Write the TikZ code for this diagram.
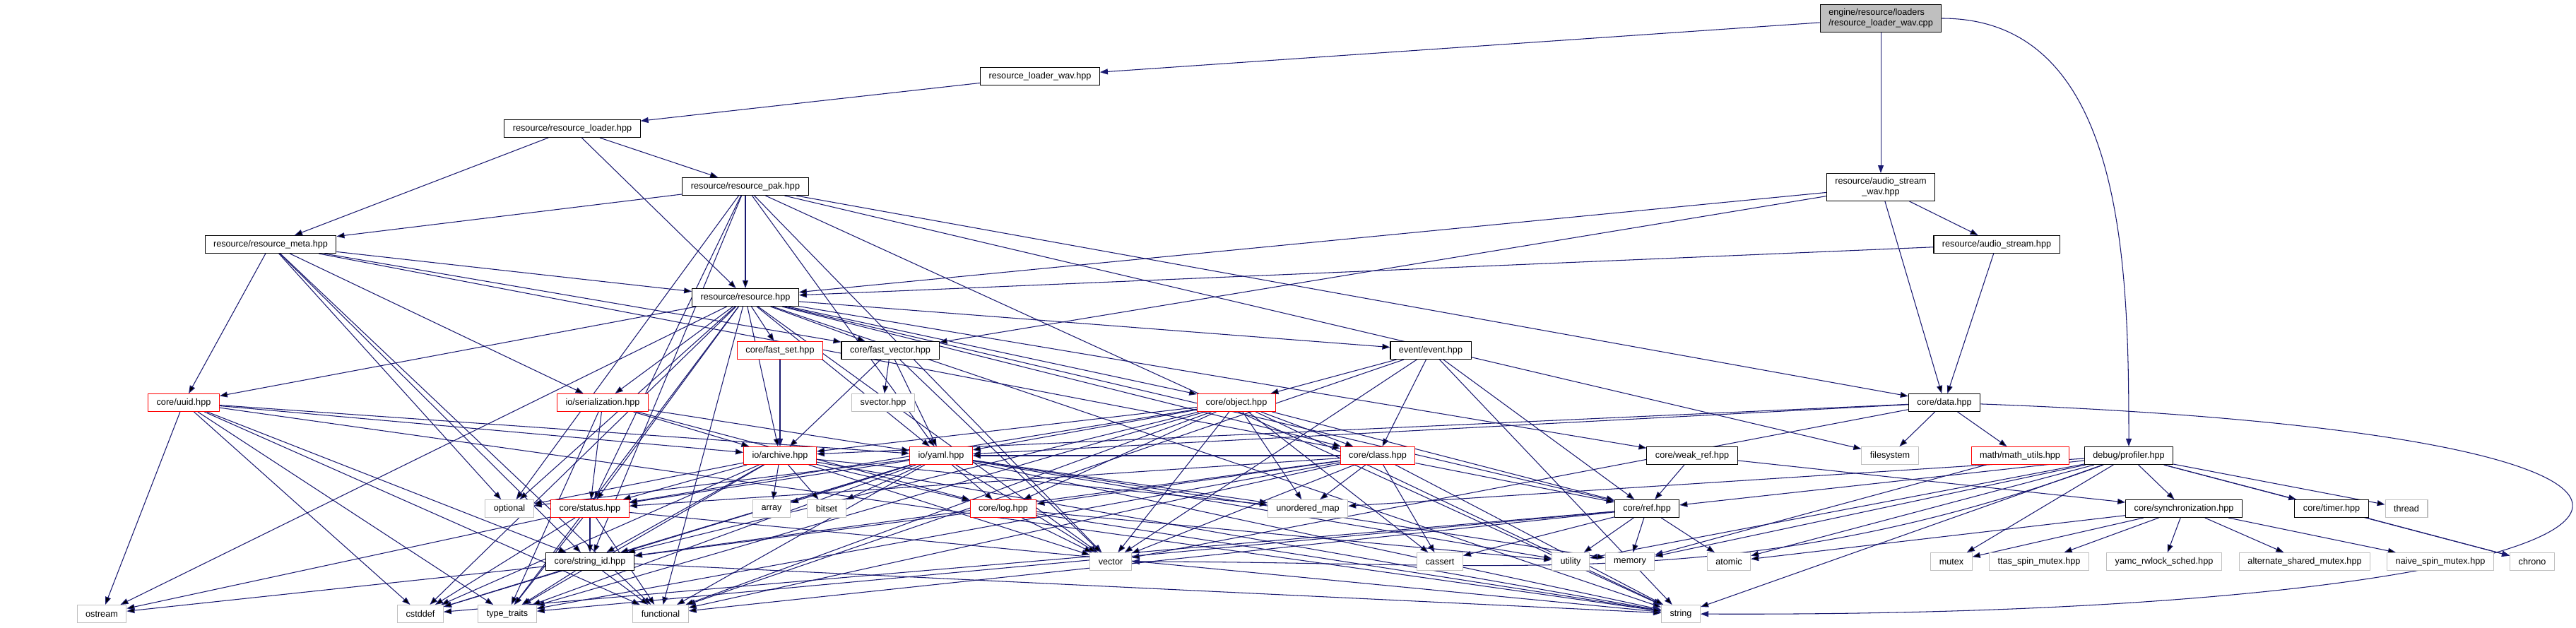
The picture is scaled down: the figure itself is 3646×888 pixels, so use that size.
\documentclass[tikz,border=0pt]{standalone}
\usepackage{fontspec}
\setmainfont{Liberation Sans}
\usetikzlibrary{arrows.meta}
\definecolor{edgeblue}{HTML}{191970}
\definecolor{sysgray}{HTML}{BFBFBF}
\pgfdeclarelayer{background}
\pgfsetlayers{background,main}

\begin{document}
\begin{tikzpicture}[
  x=0.01cm, y=-0.01cm,
  hdr/.style={
    draw,
    rectangle,
    line width=0.3pt,
    fill=white,
    font=\fontsize{3.6}{4.3}\selectfont,
    inner xsep=0.12cm,
    inner ysep=0.06cm,
    minimum height=0.25cm
  },
  syshdr/.style={hdr, draw=sysgray},
  redhdr/.style={hdr, draw=red},
  srchdr/.style={hdr, fill=sysgray, align=left},
  arr/.style={-{Triangle[length=0.11cm,width=0.08cm]}, draw=edgeblue, line width=0.3pt}
]
\useasboundingbox (0,0) rectangle (3646,888);

% Top part
\node[srchdr] (root) at (2662,26) {engine/resource/loaders\\/resource\_loader\_wav.cpp};
\node[hdr] (lwav) at (1472,108) {resource\_loader\_wav.hpp};
\node[hdr] (loader) at (810,182) {resource/resource\_loader.hpp};
\node[hdr] (pak) at (1055,264) {resource/resource\_pak.hpp};
\node[hdr, align=center] (awav) at (2662,265) {resource/audio\_stream\\\_wav.hpp};
\node[hdr] (meta) at (383,346) {resource/resource\_meta.hpp};
\node[hdr] (astream) at (2826,346) {resource/audio\_stream.hpp};
\node[hdr] (res) at (1055,421) {resource/resource.hpp};

% Middle rows
\node[redhdr] (fset) at (1104,496) {core/fast\_set.hpp};
\node[hdr] (fvec) at (1260,496) {core/fast\_vector.hpp};
\node[hdr] (event) at (2025,496) {event/event.hpp};
\node[redhdr] (uuid) at (260,570) {core/uuid.hpp};
\node[redhdr] (ser) at (853,570) {io/serialization.hpp};
\node[syshdr] (svec) at (1250,570) {svector.hpp};
\node[redhdr] (object) at (1750,570) {core/object.hpp};
\node[hdr] (data) at (2752,570) {core/data.hpp};
\node[redhdr] (archive) at (1104,645) {io/archive.hpp};
\node[redhdr] (yaml) at (1332,645) {io/yaml.hpp};
\node[redhdr] (class) at (1950,645) {core/class.hpp};
\node[hdr] (wref) at (2395,645) {core/weak\_ref.hpp};
\node[syshdr] (fsys) at (2675,645) {filesystem};
\node[redhdr] (math) at (2859,645) {math/math\_utils.hpp};
\node[hdr] (prof) at (3013,645) {debug/profiler.hpp};

\node[syshdr] (optional) at (721,720) {optional};
\node[redhdr] (status) at (835,720) {core/status.hpp};
\node[syshdr] (array) at (1092,720) {array};
\node[syshdr] (bitset) at (1170,720) {bitset};
\node[redhdr] (log) at (1420,720) {core/log.hpp};
\node[syshdr] (umap) at (1851,720) {unordered\_map};
\node[hdr] (ref) at (2331,720) {core/ref.hpp};
\node[hdr] (sync) at (3091,720) {core/synchronization.hpp};
\node[hdr] (timer) at (3300,720) {core/timer.hpp};
\node[syshdr] (thread) at (3406,720) {thread};

% Bottom rows
\node[hdr] (sid) at (835,795) {core/string\_id.hpp};
\node[syshdr] (vector) at (1572,795) {vector};
\node[syshdr] (cassert) at (2038,795) {cassert};
\node[syshdr] (utility) at (2223,795) {utility};
\node[syshdr] (memory) at (2307,795) {memory};
\node[syshdr] (atomic) at (2447,795) {atomic};
\node[syshdr] (mutex) at (2762,795) {mutex};
\node[syshdr] (ttas) at (2886,795) {ttas\_spin\_mutex.hpp};
\node[syshdr] (yamc) at (3063,795) {yamc\_rwlock\_sched.hpp};
\node[syshdr] (altmx) at (3262,795) {alternate\_shared\_mutex.hpp};
\node[syshdr] (naive) at (3454,795) {naive\_spin\_mutex.hpp};
\node[syshdr] (chrono) at (3584,795) {chrono};
\node[syshdr] (ostream) at (144,869) {ostream};
\node[syshdr] (cstddef) at (595,869) {cstddef};
\node[syshdr] (ttraits) at (718,869) {type\_traits};
\node[syshdr] (functional) at (935,869) {functional};
\node[syshdr] (string) at (2379,869) {string};

% Includes
\begin{pgfonlayer}{background}
\draw[arr] (root) -- (lwav);
\draw[arr] (root) -- (awav);
\draw[arr] (root) to[out=0,in=90] (prof);
\draw[arr] (lwav) -- (loader);
\draw[arr] (loader) edge (meta) edge (pak) edge (res);
\draw[arr] (pak) edge (res) edge (meta) edge (optional) edge (status) edge (sid) edge (yaml) edge (data) edge (fsys) edge (string) edge (vector);
\draw[arr] (meta) edge (res) edge (uuid) edge (ser) edge (fvec) edge (optional) edge (sid) edge (class) edge (functional);
\draw[arr] (res) edge (uuid) edge (ser) edge (archive) edge (yaml) edge (fset) edge (fvec) edge (event) edge (object) edge (class) edge (wref) edge (status) edge (optional) edge (ostream) edge (cstddef) edge (ttraits) edge (functional) edge (vector) edge (string) edge (ref);
\draw[arr] (awav) edge (res) edge (fvec) edge (data) edge (astream);
\draw[arr] (astream) edge (res) edge (data);
\draw[arr] (data) edge (yaml) edge (archive) edge (fsys) edge (math) edge (vector);
\draw[arr] (data) .. controls (4100,620) and (3830,875) .. (string);
\draw[arr] (math) -- (memory);
\draw[arr] (prof) edge (sync) edge (timer) edge (thread) edge (chrono) edge (mutex) edge (atomic) edge (ref) edge (umap) edge (string) edge (memory) edge (utility);
\draw[arr] (prof) to[out=200,in=0] (vector);
\draw[arr] (sync) edge (yamc) edge (altmx) edge (naive) edge (ttas) edge (mutex) edge (atomic);
\draw[arr] (timer) -- (chrono);
\draw[arr] (wref) edge (ref) edge (sync);
\draw[arr] (event) edge (object) edge (class) edge (ref) edge (vector) edge (string) edge (functional);
\draw[arr] (object) edge (archive) edge (yaml) edge (status) edge (log) edge (class) edge (umap) edge (vector) edge (ref) edge (string) edge (ttraits) edge (functional) edge (cassert) edge (sid);
\draw[arr] (class) edge (umap) edge (ref) edge (sid) edge (vector) edge (cassert) edge (ttraits) edge (functional) edge (string) edge (status) edge (yaml) edge (log);
\draw[arr] (ref) edge (utility) edge (memory) edge (atomic) edge (cassert) edge (ttraits) edge (functional) edge (cstddef);
\draw[arr] (yaml) edge (optional) edge (status) edge (sid) edge (log) edge (vector) edge (umap) edge (array) edge (bitset) edge (functional) edge (ttraits) edge (string) edge (cstddef) edge (utility) edge (memory);
\draw[arr] (archive) edge (array) edge (bitset) edge (optional) edge (status) edge (sid) edge (log) edge (vector) edge (umap) edge (ttraits) edge (cstddef) edge (string);
\draw[arr] (ser) edge (archive) edge (status) edge (yaml) edge (ttraits) edge (log);
\draw[arr] (status) edge (sid) edge (ttraits) edge (cstddef) edge (functional) edge (ostream) edge (string);
\draw[arr] (sid) edge (cstddef) edge (ttraits) edge (functional) edge (string) edge (ostream);
\draw[arr] (log) edge (vector) edge (sid) edge (string) edge (utility);
\draw[arr] (uuid) edge (ostream) edge (cstddef) edge (ttraits) edge (functional) edge (string) edge (sid) edge (archive) edge (yaml);
\draw[arr] (fset) -- (archive);
\draw[arr] (fvec) edge (svec) edge (archive) edge (yaml) edge (vector);
\end{pgfonlayer}

\end{tikzpicture}
\end{document}
